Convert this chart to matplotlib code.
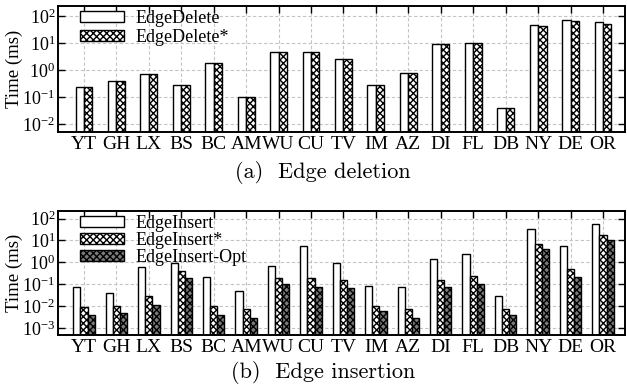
import numpy as np
import matplotlib
matplotlib.use('Agg')
import matplotlib.pyplot as plt

# ── Datos ─────────────────────────────────────────────────────────
graphs = ['YT', 'GH', 'LX', 'BS', 'BC', 'AM', 'WU', 'CU', 'TV',
          'IM', 'AZ', 'DI', 'FL', 'DB', 'NY', 'DE', 'OR']

edge_delete      = [0.245, 0.39, 0.72, 0.28, 1.9, 0.10, 4.5, 4.7, 2.6,
                    0.28, 0.80, 9.6, 10.5, 0.039, 46, 75, 63]
edge_delete_star = [0.245, 0.39, 0.72, 0.28, 1.9, 0.10, 4.5, 4.7, 2.6,
                    0.28, 0.80, 9.6, 10.5, 0.039, 45, 67, 53]

edge_insert      = [0.080, 0.040, 0.63, 0.95, 0.21, 0.051, 0.66, 5.6, 0.98,
                    0.089, 0.078, 1.5, 2.4, 0.029, 35, 5.6, 55]
edge_insert_star = [0.009, 0.010, 0.030, 0.41, 0.010, 0.0078, 0.20, 0.20, 0.16,
                    0.010, 0.0078, 0.16, 0.23, 0.0078, 6.9, 0.50, 17.5]
edge_insert_opt  = [0.0042, 0.0051, 0.012, 0.20, 0.0042, 0.0030, 0.10, 0.078, 0.069,
                    0.0063, 0.0030, 0.078, 0.10, 0.0042, 4.2, 0.22, 10.4]

# ── Estilo ────────────────────────────────────────────────────────
plt.rcParams['font.family'] = ['Liberation Serif', 'DejaVu Serif']
plt.rcParams['mathtext.fontset'] = 'stix'
plt.rcParams['hatch.linewidth'] = 1.0
plt.rcParams['axes.linewidth'] = 1.4

W, H = 627, 391
fig = plt.figure(figsize=(W / 100, H / 100), dpi=100)


def _axes(left, top, right, bottom):
    return fig.add_axes([left / W, 1 - bottom / H, (right - left) / W, (bottom - top) / H])


def _style(ax, ylim):
    x = np.arange(len(graphs))
    ax.set_yscale('log')
    ax.set_ylim(*ylim)
    ax.set_xlim(-0.8, len(graphs) - 1 + 0.68)
    ax.set_xticks(x)
    ax.set_xticklabels(graphs, fontsize=14)
    ax.tick_params(axis='both', which='both', direction='in', top=True, right=True)
    ax.tick_params(axis='both', which='major', length=5, width=1.0, pad=3)
    ax.tick_params(axis='y', which='minor', length=3, width=0.8)
    ax.tick_params(axis='y', labelsize=13, pad=2)
    ax.set_ylabel('Time (ms)', fontsize=13.5)
    ax.yaxis.set_label_coords(-0.062, 0.5)
    ax.grid(True, which='major', color='#c4c4c4', linestyle=(0, (3, 2)), lw=0.8)
    ax.set_axisbelow(True)


# ── (a) Edge deletion ─────────────────────────────────────────────
ax1 = _axes(58, 6, 625, 132)
x = np.arange(len(graphs))
bw = 0.26
ax1.bar(x - bw / 2, edge_delete, bw, facecolor='white', edgecolor='black',
        lw=1.0, label='EdgeDelete')
ax1.bar(x + bw / 2, edge_delete_star, bw, facecolor='white', edgecolor='black',
        lw=1.0, hatch='xxxxx', label='EdgeDelete*')
_style(ax1, (0.005, 240))
ax1.set_yticks([1e-2, 1e-1, 1, 10, 100])
ax1.legend(loc='upper left', bbox_to_anchor=(0.035, 0.985), frameon=False,
           fontsize=13, handlelength=2.45, handleheight=0.55,
           handletextpad=0.65, labelspacing=0.1, borderaxespad=0, borderpad=0.1)

# ── (b) Edge insertion ────────────────────────────────────────────
ax2 = _axes(58, 211, 625, 335)
bw = 0.22
ax2.bar(x - bw, edge_insert, bw, facecolor='white', edgecolor='black',
        lw=1.0, label='EdgeInsert')
ax2.bar(x, edge_insert_star, bw, facecolor='white', edgecolor='black',
        lw=1.0, hatch='xxxxx', label='EdgeInsert*')
ax2.bar(x + bw, edge_insert_opt, bw, facecolor='#7a7a7a', edgecolor='black',
        lw=1.0, hatch='xxxxx', label='EdgeInsert-Opt')
_style(ax2, (0.0005, 220))
ax2.set_yticks([1e-3, 1e-2, 1e-1, 1, 10, 100])
ax2.legend(loc='upper left', bbox_to_anchor=(0.035, 0.985), frameon=False,
           fontsize=13, handlelength=2.45, handleheight=0.55,
           handletextpad=0.65, labelspacing=0.0, borderaxespad=0, borderpad=0.1)

# ── Pies de figura ────────────────────────────────────────────────
fig.text(323 / W, 1 - 173 / H, '(a)  Edge deletion', family='cmr10',
         fontsize=16, ha='center', va='center')
fig.text(323 / W, 1 - 373 / H, '(b)  Edge insertion', family='cmr10',
         fontsize=16, ha='center', va='center')

fig.savefig('out.png', dpi=100)
